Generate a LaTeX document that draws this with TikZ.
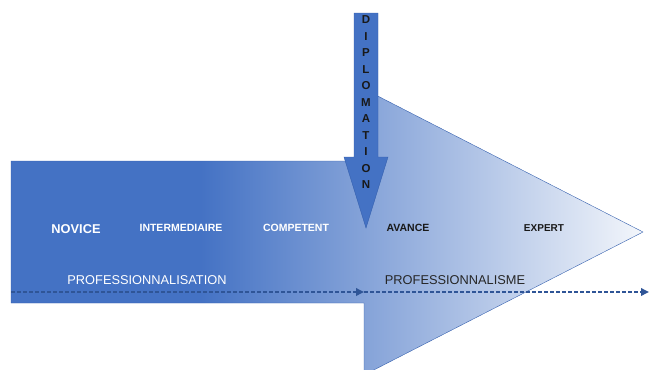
\documentclass[tikz,border=0pt]{standalone}
\usepackage{fontspec}
\setmainfont{Liberation Sans}
\usepackage{tikz}
\usetikzlibrary{arrows.meta}

\definecolor{arrowblue}{HTML}{4472C4}
\definecolor{arrowpale}{HTML}{F3F6FB}
\definecolor{arrowedge}{HTML}{3560AE}
\definecolor{dashblue}{HTML}{2F5597}
\pgfdeclarehorizontalshading{progress}{100bp}{color(0bp)=(arrowblue); color(40bp)=(arrowblue); color(75bp)=(arrowpale); color(100bp)=(arrowpale)}

\begin{document}
\begin{tikzpicture}[x=1pt, y=-1pt, >=latex,
        stage/.style={font=\bfseries\fontsize{10.5}{12}\selectfont, inner sep=0pt},
        phase/.style={font=\fontsize{12.8}{14}\selectfont, inner sep=0pt},
        letter/.style={font=\bfseries\fontsize{11.5}{13}\selectfont, text=black!90, inner sep=0pt}]
        \def\midY{232}
        \def\lineY{292}

        \useasboundingbox (0,0) rectangle (649,370);
        \clip (0,0) rectangle (649,370);

        % big progress arrow
        \draw[arrowedge, thin, shading=progress]
            (11,161) -- (364,161) -- (364,89) -- (643,\midY) -- (364,375) -- (364,303) -- (11,303) -- cycle;

        \coordinate (startL) at (11,\lineY);
        \coordinate (mid) at (364,\lineY);
        \coordinate (endR) at (649,\lineY);

        \draw[dashblue, line width=1.8pt, dash pattern=on 4pt off 2pt, -{Triangle[length=8pt,width=7.5pt]}] (startL) -- (mid);
        \draw[dashblue, line width=1.8pt, dash pattern=on 4pt off 2pt, -{Triangle[length=8pt,width=7.5pt]}] (mid) -- (endR);

        \node[stage, white, font=\bfseries\fontsize{12.8}{14}\selectfont] (novice) at (76,\midY-3) {NOVICE};
        \node[stage, white] (inter) at (181,\midY-4) {INTERMEDIAIRE};
        \node[stage, white] (compet) at (296,\midY-4) {COMPETENT};
        \node[stage, black!90] (avance) at (408,\midY-4) {AVANCE};
        \node[stage, black!90, font=\bfseries\fontsize{10}{12}\selectfont] (expert) at (544,\midY-4) {EXPERT};

        \node[phase, white] (profsat) at (147,280) {PROFESSIONNALISATION};
        \node[phase, black!85] (profsme) at (455,280) {PROFESSIONNALISME};

        % diplomation arrow
        \draw[arrowedge, thin, fill=arrowblue]
            (354,13) -- (378,13) -- (378,157) -- (388,157) -- (366,228) -- (344,157) -- (354,157) -- cycle;
        \foreach \c [count=\i] in {D,I,P,L,O,M,A,T,I,O,N}
            \node[letter] (dip\i) at (366,{20+(\i-1)*16.5}) {\c};

    \end{tikzpicture}
\end{document}
